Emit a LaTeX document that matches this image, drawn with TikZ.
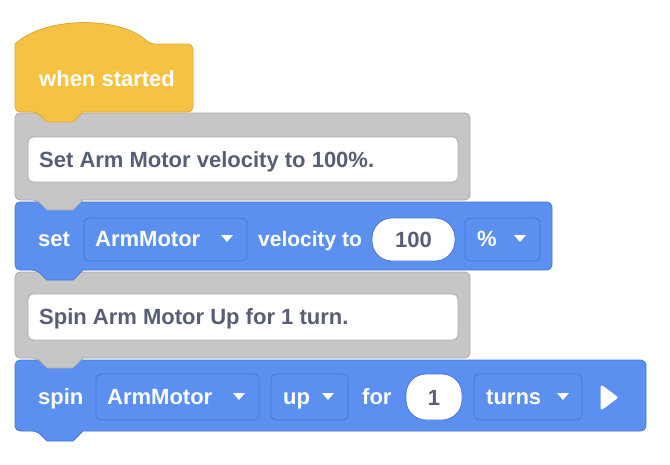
\documentclass[tikz,border=0pt]{standalone}
\usepackage{fontspec}
\setmainfont{Liberation Sans}
\definecolor{yel}{HTML}{F5C243}
\definecolor{yelb}{HTML}{D9A93B}
\definecolor{gry}{HTML}{C6C6C6}
\definecolor{gryb}{HTML}{A9A9A9}
\definecolor{blu}{HTML}{5B8FF0}
\definecolor{blub}{HTML}{4877D6}
\definecolor{txt}{HTML}{575E75}
\tikzset{
  wtxt/.style={text=white,font=\fontsize{22}{24}\selectfont\bfseries,anchor=base west,inner sep=0},
  dtxt/.style={text=txt,font=\fontsize{22}{24}\selectfont\bfseries,anchor=base west,inner sep=0},
  ctxt/.style={text=txt,font=\fontsize{22}{24}\selectfont\bfseries,anchor=base,inner sep=0},
  dd/.style={draw=blub,fill=blu,rounded corners=5pt,line width=0.8pt},
  oval/.style={draw=blub,fill=white,rounded corners=20pt,line width=0.8pt},
  cbox/.style={draw=gryb,fill=white,rounded corners=5pt,line width=0.8pt},
  arr/.style={fill=white,draw=white,line join=round,line width=1pt}
}
\newcommand{\blkshape}[5]{%
  \filldraw[fill=#1,draw=#2,line width=0.8pt,rounded corners=5pt]
   (15,#3) -- (15,#5) -- (37,#5) [sharp corners] -- (47,#5+10) -- (73,#5+10) -- (83,#5) [rounded corners=5pt] -- (#4,#5) -- (#4,#3) -- cycle;}
\begin{document}
\begin{tikzpicture}[x=1pt,y=-1pt]
\useasboundingbox (0,0) rectangle (670,464);
\blkshape{blu}{blub}{360}{646}{431}
\blkshape{gry}{gryb}{272}{470}{358}
\blkshape{blu}{blub}{202}{552}{270}
\blkshape{gry}{gryb}{113}{470}{200}
\filldraw[fill=yel,draw=yelb,line width=0.8pt,rounded corners=5pt]
  (15,112) -- (37,112) [sharp corners] -- (47,122) -- (73,122) -- (83,112) [rounded corners=5pt] -- (193,112) -- (193,44) -- (150,44) [sharp corners] .. controls (120,16) and (45,16) .. (15,44) [rounded corners=5pt] -- cycle;
\node[wtxt] (hat) at (39,86) {when started};
\draw[cbox] (28,137) rectangle (458,182);
\node[dtxt] (c1) at (39,167) {Set Arm Motor velocity to 100\%.};
\node[wtxt] (set) at (38,246) {set};
\draw[dd] (84,218) rectangle (247,261);
\node[wtxt] (am1) at (95,246) {ArmMotor};
\fill[white] (221,235) -- (233,235) -- (227,242) -- cycle;
\node[wtxt,font=\fontsize{21}{24}\selectfont\bfseries] (vel) at (258,246) {velocity to};
\draw[oval] (372,218) rectangle (455,261);
\node[ctxt] (v100) at (413.5,247) {100};
\draw[dd] (465,218) rectangle (540,261);
\node[wtxt] (pct) at (477,246) {\%};
\fill[white] (514,235) -- (526,235) -- (520,242) -- cycle;
\draw[cbox] (28,294) rectangle (458,340);
\node[dtxt] (c2) at (39,324) {Spin Arm Motor Up for 1 turn.};
\node[wtxt] (spin) at (38,404) {spin};
\draw[dd] (96,374) rectangle (259,420);
\node[wtxt] (am2) at (107,404) {ArmMotor};
\fill[white] (233,393) -- (245,393) -- (239,400) -- cycle;
\draw[dd] (271,374) rectangle (348,420);
\node[wtxt] (up) at (283,404) {up};
\fill[white] (322,393) -- (334,393) -- (328,400) -- cycle;
\node[wtxt] (for) at (362,404) {for};
\draw[oval] (406,374) rectangle (462,420);
\node[ctxt] (one) at (434,405) {1};
\draw[dd] (474,374) rectangle (582,420);
\node[wtxt] (turns) at (486,404) {turns};
\fill[white] (557,393) -- (569,393) -- (563,400) -- cycle;
\filldraw[arr,line width=3pt] (602,387) -- (602,408) -- (616,397.5) -- cycle;
\end{tikzpicture}
\end{document}
